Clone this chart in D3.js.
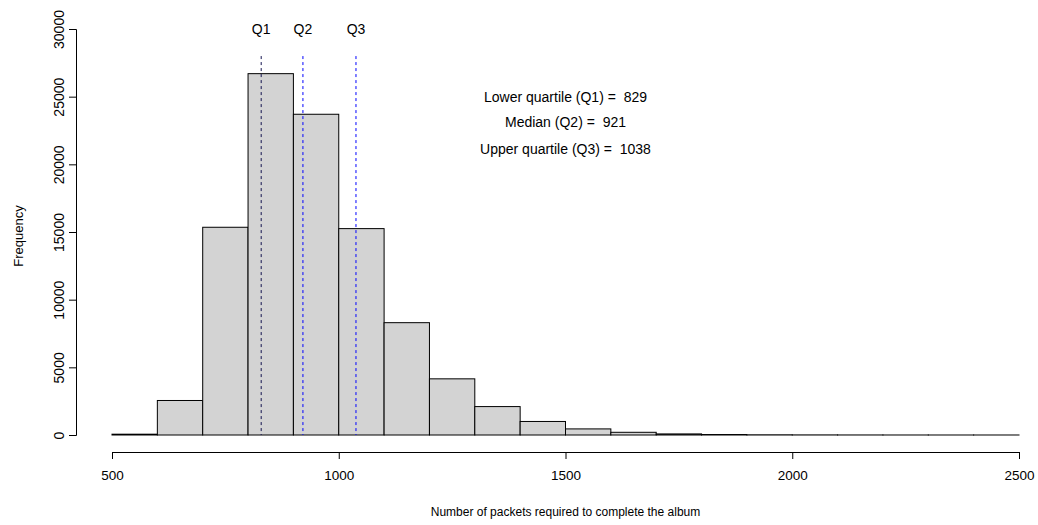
<!DOCTYPE html>
<html lang="en">
<head>
<meta charset="UTF-8">
<title>Packets histogram</title>
<script src="https://d3js.org/d3.v7.min.js"></script>
<style>
  body { margin: 0; background: #fff; }
  text { font-family: "Liberation Sans", Arial, sans-serif; fill: #000; }
</style>
</head>
<body>
<script>
    const width  = 1038;
    const height = 525;

    // histogram bins (left edges, width 100) and counts
    const binStarts = [500, 600, 700, 800, 900, 1000, 1100, 1200, 1300, 1400,
                       1500, 1600, 1700, 1800, 1900, 2000, 2100, 2200, 2300, 2400];
    const counts    = [60, 2550, 15350, 26700, 23700, 15250, 8300, 4150, 2100, 1000,
                       450, 200, 80, 35, 15, 8, 4, 2, 1, 1];
    const binWidth  = 100;

    const xTicks = [500, 1000, 1500, 2000, 2500];
    const yTicks = [0, 5000, 10000, 15000, 20000, 25000, 30000];

    const quartiles   = [829, 921, 1038];
    const qLabels     = ["Q1", "Q2", "Q3"];
    const qColors     = ["#141450", "#0000ff", "#0000ff"];
    const statLabels  = ["Lower quartile (Q1) =  829", "Median (Q2) =  921", "Upper quartile (Q3) =  1038"];
    const statY       = [25000, 23100, 21100];

    const x = d3.scaleLinear().domain([500, 2500]).range([112, 1019]);
    const y = d3.scaleLinear().domain([0, 30000]).range([435, 29]);

    const svg = d3.select("body").append("svg")
        .attr("width", width)
        .attr("height", height);

    // bars
    svg.append("g")
        .selectAll("rect")
        .data(binStarts)
        .join("rect")
        .attr("x", d => x(d))
        .attr("width", d => x(d + binWidth) - x(d))
        .attr("y", (d, i) => y(counts[i]))
        .attr("height", (d, i) => y(0) - y(counts[i]))
        .attr("fill", "#d3d3d3")
        .attr("stroke", "#000")
        .attr("stroke-width", 1);

    // quartile lines
    svg.append("g")
        .selectAll("line")
        .data(quartiles)
        .join("line")
        .attr("x1", d => x(d)).attr("x2", d => x(d))
        .attr("y1", y(28000)).attr("y2", y(0))
        .attr("stroke", (d, i) => qColors[i])
        .attr("stroke-dasharray", "3,3");

    svg.append("g")
        .selectAll("text")
        .data(quartiles)
        .join("text")
        .attr("x", d => x(d))
        .attr("y", y(30000))
        .attr("text-anchor", "middle")
        .attr("dominant-baseline", "central")
        .style("font-size", "14px")
        .text((d, i) => qLabels[i]);

    svg.append("g")
        .selectAll("text")
        .data(statLabels)
        .join("text")
        .attr("x", x(1500))
        .attr("y", (d, i) => y(statY[i]))
        .attr("text-anchor", "middle")
        .attr("dominant-baseline", "central")
        .style("font-size", "14px")
        .style("white-space", "pre")
        .text(d => d);

    // axes
    const xAxis = svg.append("g")
        .attr("transform", "translate(0,452)")
        .call(d3.axisBottom(x).tickValues(xTicks).tickFormat(d3.format("d"))
              .tickSizeOuter(0).tickSize(7).tickPadding(11));
    xAxis.selectAll("text").style("font-size", "13.5px");

    const yAxis = svg.append("g")
        .attr("transform", "translate(76,0)")
        .call(d3.axisLeft(y).tickValues(yTicks).tickFormat(d3.format("d"))
              .tickSizeOuter(0).tickSize(7));
    yAxis.selectAll("text")
        .attr("x", null).attr("dy", null)
        .attr("text-anchor", "middle")
        .attr("transform", "translate(-12,0) rotate(-90)")
        .style("font-size", "14px");

    svg.selectAll(".domain, .tick line").attr("stroke", "#000");
    svg.selectAll(".tick text").style("fill", "#000");

    // axis titles
    svg.append("text")
        .attr("x", (x(500) + x(2500)) / 2)
        .attr("y", 512)
        .attr("text-anchor", "middle")
        .attr("dominant-baseline", "central")
        .style("font-size", "12px")
        .text("Number of packets required to complete the album");

    svg.append("text")
        .attr("transform", "translate(18," + y(14700) + ") rotate(-90)")
        .attr("text-anchor", "middle")
        .attr("dominant-baseline", "central")
        .style("font-size", "13px")
        .text("Frequency");
</script>
</body>
</html>
